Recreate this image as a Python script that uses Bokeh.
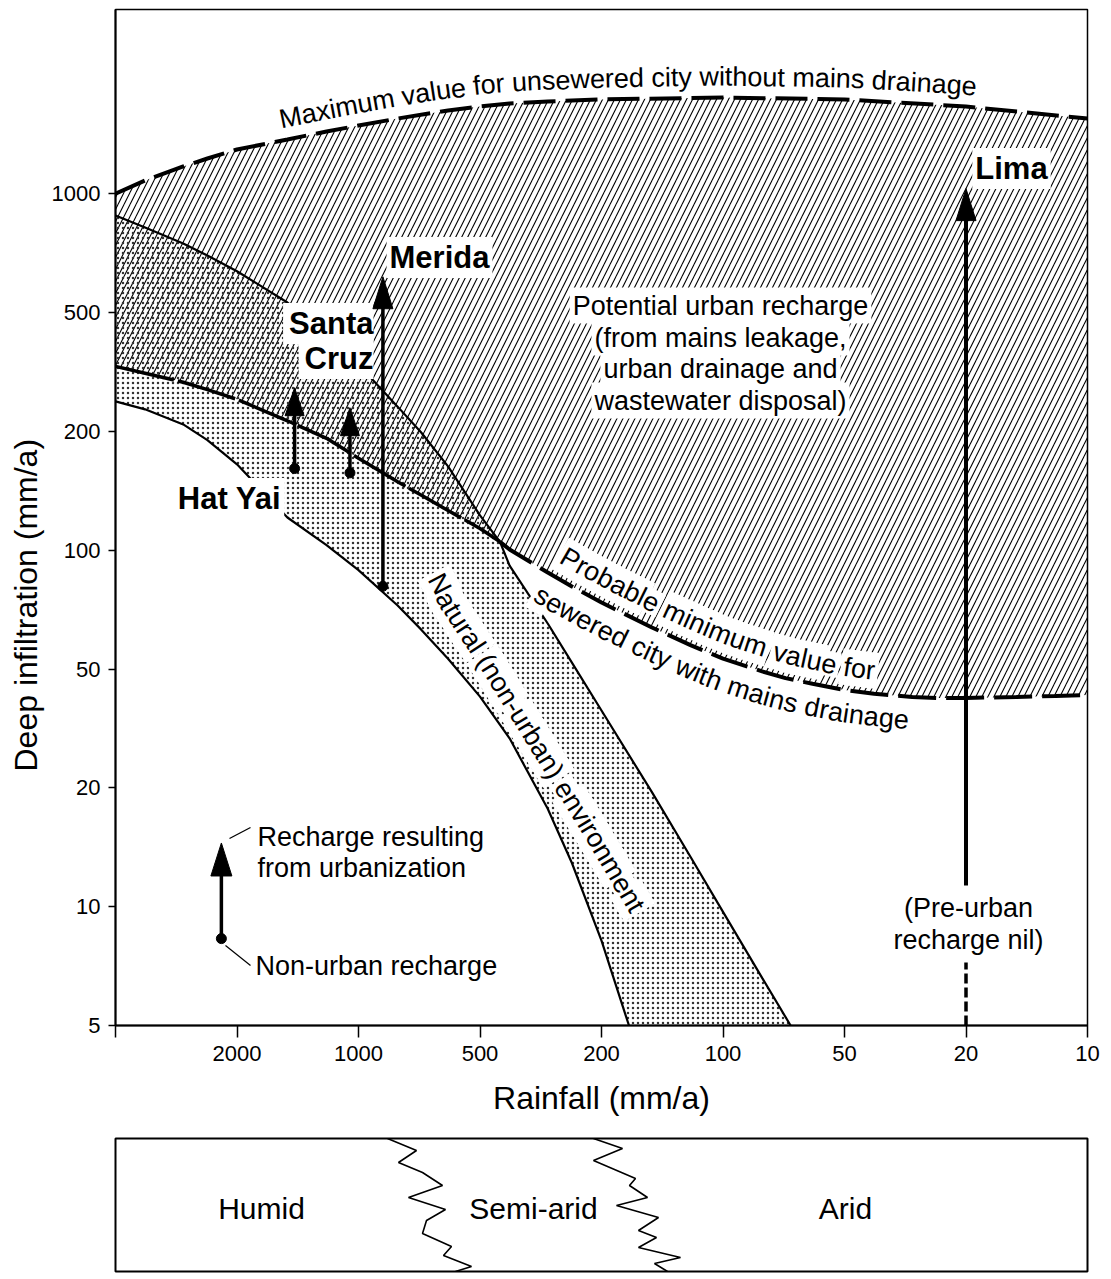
import numpy as np
from bokeh.plotting import figure
from bokeh.models import ColumnDataSource, FixedTicker, Range1d, Title
from bokeh.layouts import column
from bokeh.embed import file_html
from bokeh.resources import INLINE
from bokeh.core.properties import value, field

FONT = "Liberation Sans"

# Both axes use a 1-2-5 ladder where every step takes the same space
rain_ladder = [5000, 2000, 1000, 500, 200, 100, 50, 20, 10]
rain_tick_labels = ["", "2000", "1000", "500", "200", "100", "50", "20", "10"]
infil_ladder = [5, 10, 20, 50, 100, 200, 500, 1000, 2000, 5000]
infil_tick_labels = ["5", "10", "20", "50", "100", "200", "500", "1000"]

# Maximum value for unsewered city without mains drainage (mm/a)
max_rain = [5000, 4000, 3000, 2500, 2000, 1500, 1200, 1000, 800, 600, 500, 400, 300, 200, 100, 50, 20, 10]
max_infil = [1000, 1080, 1172, 1228, 1294, 1372, 1437, 1488, 1550, 1625, 1663, 1692, 1712, 1733, 1752, 1733, 1663, 1550]

# Probable minimum value for sewered city with mains drainage (mm/a)
min_rain = [5000, 4000, 3000, 2500, 2000, 1500, 1200, 1000, 800, 700, 600, 500, 430, 400, 300, 250,
            200, 150, 120, 100, 80, 70, 60, 50, 40, 30, 25, 20, 15, 12, 10]
min_infil = [330, 313, 292, 276, 256, 217, 192, 171, 149, 138, 126, 113.5, 105, 100.4, 87.8, 80.9,
             73.7, 63.7, 57.4, 53.1, 49.1, 46.6, 44.6, 42.5, 41.3, 40.3, 40.0, 40.0, 40.3, 40.6, 40.9]

# Natural (non-urban) recharge band (mm/a)
nat_upper_rain = [5000, 4000, 3000, 2500, 2000, 1500, 1200, 1000, 800, 700, 600, 500, 430, 400,
                  300, 250, 200, 150, 120, 100, 80, 68]
nat_upper_infil = [880, 821, 748, 697, 636, 530, 423, 335, 242, 199, 163, 122.5, 105, 91.4,
                   65.2, 51.9, 36.3, 19.5, 13.3, 9.7, 6.6, 5]
nat_lower_rain = [5000, 4000, 3000, 2500, 2000, 1500, 1200, 1000, 800, 700, 600, 500, 400, 300, 250, 200, 171]
nat_lower_infil = [252, 237, 211, 190, 165, 121, 103, 89, 72.4, 63, 53.1, 40.4, 29.3, 17.7, 12.9, 8.2, 5]

# Cities: rainfall, recharge before and after urbanization (mm/a)
city_names = ["Hat Yai", "Santa Cruz", "Merida"]
city_rain = [1440, 1050, 870]
city_pre = [161, 157, 81]
city_post = [280, 240, 616]
lima_rain = 20
lima_post = 1030

# Key arrow
key_rain = 2250
key_pre = 8.3
key_post = 14.5

# Climate zone boundaries in the strip below (frame pixels)
zig1_x = [272, 301, 283, 307, 327, 293, 330, 311, 307, 336, 328, 356, 340]
zig1_y = [0, 12, 24, 34, 47, 59, 71, 82, 95, 108, 117, 128, 133]
zig2_x = [478, 507, 478, 520, 514, 532, 501, 543, 523, 541, 523, 565, 539, 552]
zig2_y = [0, 10, 22, 40, 47, 59, 67, 79, 92, 99, 109, 119, 125, 133]
zone_names = ["Humid", "Semi-arid", "Arid"]
zone_x = [146, 418, 730]

FRAME_W, FRAME_H = 972, 1016
X_SPAN, Y_SPAN = 8.0, 8.55
PX = FRAME_W / X_SPAN
PY = FRAME_H / Y_SPAN


def rain_pos(v):
    v = np.atleast_1d(np.asarray(v, float))
    lad = np.log10(rain_ladder)
    return np.interp(-np.log10(v), -lad, np.arange(len(lad), dtype=float))


def infil_pos(v):
    v = np.atleast_1d(np.asarray(v, float))
    lad = np.log10(infil_ladder)
    return np.interp(np.log10(v), lad, np.arange(len(lad), dtype=float))


def frame_pt(fx, fy):
    # pixel offsets from the frame's top-left corner -> data coordinates
    return fx / PX, Y_SPAN - fy / PY


WIDTHS = {' ': 278, '(': 333, ')': 333, '-': 333, ',': 278, 'M': 833, 'N': 722, 'P': 667,
          'a': 556, 'b': 556, 'c': 500, 'd': 556, 'e': 556, 'f': 278, 'g': 556, 'h': 556,
          'i': 222, 'j': 222, 'k': 500, 'l': 222, 'm': 833, 'n': 556, 'o': 556, 'p': 556,
          'r': 333, 's': 500, 't': 278, 'u': 556, 'v': 500, 'w': 722, 'x': 500, 'y': 500, 'z': 500}

texts = []


def add_text(x, y, s, size, angle=0.0, bold=False, align="center", baseline="middle"):
    texts.append(dict(x=float(x), y=float(y), text=s, angle=float(angle), size=size,
                      bold=bold, align=align, baseline=baseline))


def curve_text(path_x, path_y, s, size, start_x, offset):
    X = np.asarray(path_x, float) * PX
    Y = np.asarray(path_y, float) * PY
    arc = np.concatenate([[0.0], np.cumsum(np.hypot(np.diff(X), np.diff(Y)))])
    t = np.linspace(0, arc[-1], 3000)
    fx, fy = np.interp(t, arc, X), np.interp(t, arc, Y)
    ang = np.unwrap(np.arctan2(np.gradient(fy), np.gradient(fx)))
    k = 121
    ang = np.convolve(np.pad(ang, k // 2, mode="edge"), np.ones(k) / k, mode="valid")
    ox = fx - np.sin(ang) * offset
    oy = fy + np.cos(ang) * offset
    oarc = np.concatenate([[0.0], np.cumsum(np.hypot(np.diff(ox), np.diff(oy)))])
    s0 = np.interp(start_x, ox, oarc)
    cum = 0.0
    for ch in s:
        w = WIDTHS.get(ch, 556) * size / 1000.0
        sc = s0 + cum + w / 2
        cum += w
        if ch == " ":
            continue
        add_text(np.interp(sc, oarc, ox) / PX, np.interp(sc, oarc, oy) / PY, ch, size,
                 angle=np.interp(sc, oarc, ang), baseline="alphabetic")


p = figure(frame_width=FRAME_W, frame_height=FRAME_H,
           x_range=Range1d(0, X_SPAN), y_range=Range1d(0, Y_SPAN),
           min_border_left=115, min_border_right=24, min_border_top=9, min_border_bottom=100,
           toolbar_location=None, output_backend="svg")
p.grid.visible = False
p.outline_line_color = "black"
p.outline_line_width = 1.5
p.background_fill_color = "white"
p.border_fill_color = "white"

xa = p.xaxis[0]
xa.ticker = FixedTicker(ticks=list(range(len(rain_ladder))))
xa.major_label_overrides = {i: s for i, s in enumerate(rain_tick_labels)}
xa.major_tick_out = 12
xa.major_tick_in = 0
xa.minor_tick_out = 0
xa.minor_tick_in = 0
xa.axis_line_width = 2
xa.major_tick_line_width = 1.5
xa.major_label_text_font = FONT
xa.major_label_text_font_size = "22px"
xa.major_label_text_color = "black"
xa.major_label_standoff = 8
xa.axis_label = "Rainfall (mm/a)"
xa.axis_label_text_font = FONT
xa.axis_label_text_font_size = "32px"
xa.axis_label_text_font_style = "normal"
xa.axis_label_text_color = "black"
xa.axis_label_standoff = 16

ya = p.yaxis[0]
ya.ticker = FixedTicker(ticks=list(range(len(infil_tick_labels))))
ya.major_label_overrides = {i: s for i, s in enumerate(infil_tick_labels)}
ya.major_tick_out = 7
ya.major_tick_in = 0
ya.minor_tick_out = 0
ya.minor_tick_in = 0
ya.axis_line_width = 2
ya.major_tick_line_width = 1.5
ya.major_label_text_font = FONT
ya.major_label_text_font_size = "22px"
ya.major_label_text_color = "black"
ya.major_label_standoff = 8

p.add_layout(Title(text="Deep infiltration (mm/a)", align="left", offset=254, standoff=10,
                   text_font=FONT, text_font_size="32px", text_font_style="normal",
                   text_color="black"), "left")

# coordinates of the curves
mx, my = rain_pos(max_rain), infil_pos(max_infil)
nx_, ny_ = rain_pos(min_rain), infil_pos(min_infil)
ux, uy = rain_pos(nat_upper_rain), infil_pos(nat_upper_infil)
lx, ly = rain_pos(nat_lower_rain), infil_pos(nat_lower_infil)

# hatched potential urban recharge, stippled natural band
p.patch(np.concatenate([mx, nx_[::-1]]), np.concatenate([my, ny_[::-1]]),
        fill_color=None, line_color=None, hatch_pattern="/", hatch_scale=12,
        hatch_weight=1.1, hatch_color="black")
p.patch(np.concatenate([ux, lx[::-1]]), np.concatenate([uy, ly[::-1]]),
        fill_color=None, line_color=None, hatch_pattern=".", hatch_scale=5,
        hatch_weight=1.1, hatch_color="#333333")

# solid band edges and the left part of the minimum curve go under the labels
left = np.asarray(min_rain) >= 430
right = np.asarray(min_rain) <= 430
p.line(ux, uy, line_width=2.2, line_color="black")
p.line(lx, ly, line_width=2.2, line_color="black")
p.line(nx_[left], ny_[left], line_width=3.5, line_color="black", line_dash="60 4")

# curved labels
curve_text(mx, my, "Maximum value for unsewered city without mains drainage", 27, 164, 21)
curve_text(nx_, ny_, "Probable minimum value for", 27, 447, 23)
curve_text(nx_, ny_, "sewered city with mains drainage", 27, 421, -23)
curve_text(ux, uy, "Natural (non-urban) environment", 27, 320, -72)

# straight labels
for line, fy in zip(["Potential urban recharge", "(from mains leakage,",
                     "urban drainage and", "wastewater disposal)"], [296, 328, 359, 391]):
    add_text(*frame_pt(605, fy), line, 27)
add_text(*frame_pt(324, 248), "Merida", 31, bold=True)
add_text(*frame_pt(258, 314), "Santa", 31, bold=True, align="right")
add_text(*frame_pt(258, 349), "Cruz", 31, bold=True, align="right")
add_text(*frame_pt(114, 489), "Hat Yai", 31, bold=True)
add_text(*frame_pt(896, 159), "Lima", 31, bold=True)
add_text(*frame_pt(142, 827), "Recharge resulting", 27, align="left")
add_text(*frame_pt(142, 858), "from urbanization", 27, align="left")
add_text(*frame_pt(140, 956), "Non-urban recharge", 27, align="left")
add_text(*frame_pt(853, 898), "(Pre-urban", 27)
add_text(*frame_pt(853, 930), "recharge nil)", 27)


def emit_texts(background):
    groups = {}
    for it in texts:
        groups.setdefault((it["align"], it["baseline"]), []).append(it)
    for (align, baseline), rows in groups.items():
        src = ColumnDataSource(dict(
            x=[r["x"] for r in rows], y=[r["y"] for r in rows],
            text=[r["text"] for r in rows], angle=[r["angle"] for r in rows],
            size=[f'{r["size"]}px' for r in rows],
            style=["bold" if r["bold"] else "normal" for r in rows]))
        kw = dict(x="x", y="y", text="text", angle="angle", source=src,
                  text_font=value(FONT), text_font_size=field("size"),
                  text_font_style=field("style"), text_align=align, text_baseline=baseline)
        if background:
            p.text(**kw, text_alpha=0, background_fill_color="white", padding=3)
        else:
            p.text(**kw, text_color="black")


emit_texts(True)

# dashed limits
p.line(mx, my, line_width=4, line_color="black", line_dash="32 10")
p.line(nx_[right], ny_[right], line_width=4, line_color="black", line_dash="38 10")


def arrow(x, y_from, y_to, head_len, head_w, lw):
    base = y_to - head_len / PY
    if y_from is not None:
        p.segment(x0=[x], y0=[y_from], x1=[x], y1=[base + 3 / PY], line_width=lw, line_color="black")
    p.patch([x - head_w / 2 / PX, x, x + head_w / 2 / PX], [base, y_to, base],
            fill_color="black", line_color="black", line_width=1)


for r, a, b in zip(city_rain, city_pre, city_post):
    x = rain_pos(r)[0]
    big = b > 500
    arrow(x, infil_pos(a)[0], infil_pos(b)[0], 32 if big else 28, 20 if big else 19, 3.5)
p.scatter(rain_pos(city_rain), infil_pos(city_pre), size=10, marker="circle", color="black")

# Lima: no pre-urban recharge
lima_x = rain_pos(lima_rain)[0]
arrow(lima_x, frame_pt(0, 876)[1], infil_pos(lima_post)[0], 32, 20, 4)
p.segment(x0=[lima_x], y0=[0], x1=[lima_x], y1=[frame_pt(0, 953)[1]],
          line_width=3.5, line_color="black", line_dash="10 4")

# key arrow with leaders
kx = rain_pos(key_rain)[0]
arrow(kx, infil_pos(key_pre)[0], infil_pos(key_post)[0], 33, 21, 3.5)
p.scatter([kx], infil_pos(key_pre), size=10, marker="circle", color="black")
for (ax, ay), (bx, by) in [((114, 829), (135, 818)), ((110, 936), (135, 956))]:
    x0, y0 = frame_pt(ax, ay)
    x1, y1 = frame_pt(bx, by)
    p.segment(x0=[x0], y0=[y0], x1=[x1], y1=[y1], line_width=1.3, line_color="black")

emit_texts(False)

# climate zones strip
z = figure(frame_width=FRAME_W, frame_height=133, x_range=Range1d(0, FRAME_W), y_range=Range1d(133, 0),
           min_border_left=115, min_border_right=24, min_border_top=13, min_border_bottom=8,
           toolbar_location=None, output_backend="svg", x_axis_type=None, y_axis_type=None)
z.grid.visible = False
z.outline_line_color = "black"
z.outline_line_width = 2
z.background_fill_color = "white"
z.border_fill_color = "white"
z.line(zig1_x, zig1_y, line_width=1.6, line_color="black")
z.line(zig2_x, zig2_y, line_width=1.6, line_color="black")
z.text(x=zone_x, y=[70] * 3, text=zone_names, text_font=value(FONT), text_font_size="30px",
       text_align="center", text_baseline="middle", text_color="black")

layout = column(p, z)
open("out.html", "w").write(file_html(layout, INLINE))
